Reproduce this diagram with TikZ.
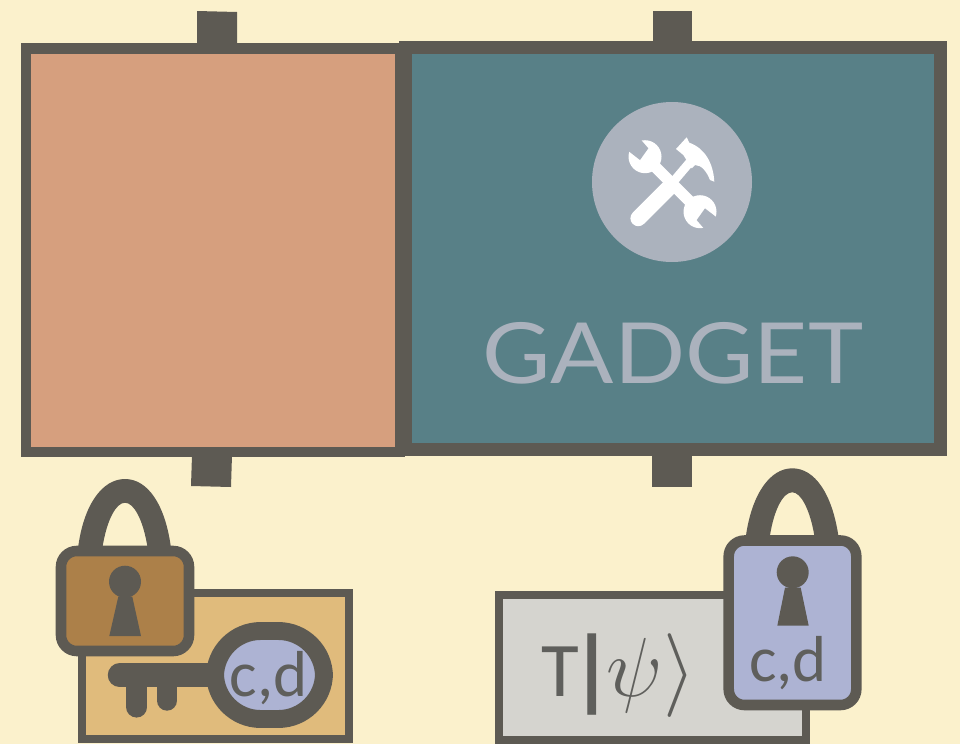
\documentclass[tikz,border=0pt]{standalone}
\usepackage{fontspec}
\newfontfamily\gadgetfont{Lato}
\newfontfamily\labelfont{Carlito}
\definecolor{paper}{HTML}{FBF1CC}
\definecolor{wire}{HTML}{5D5A53}
\definecolor{salmon}{HTML}{D69F7E}
\definecolor{teal}{HTML}{588087}
\definecolor{badge}{HTML}{ABB2BD}
\definecolor{bronze}{HTML}{AC8049}
\definecolor{tan}{HTML}{E0BB7C}
\definecolor{lilac}{HTML}{ADB3D3}
\definecolor{ash}{HTML}{D5D4CF}
\definecolor{ink}{HTML}{5F5F5C}
\tikzset{
    panel/.style={draw=wire, line width=5.7pt, line join=miter},
    lockbody/.style={draw=wire, line width=6pt, rounded corners=9pt},
    labeltext/.style={inner sep=0pt, anchor=base, text=ink, font=\labelfont\fontsize{37}{37}\selectfont},
}
\begin{document}
\begin{tikzpicture}[x=0.02cm, y=-0.02cm]
    \useasboundingbox (0,0) rectangle (960,744);
    \fill[paper] (0,0) rectangle (960,744);

    % Tabs
    \fill[wire] (197,11) -- (237,12) -- (237,46) -- (197,46) -- cycle;
    \fill[wire] (192,455) -- (232,455) -- (231,487) -- (191,486) -- cycle;
    \fill[wire] (653,11) -- (692,11) -- (692,44) -- (653,44) -- cycle;
    \fill[wire] (652,455) -- (692,455) -- (692,487) -- (652,487) -- cycle;

    % Panels
    \draw[panel, fill=salmon] (26,48.5) rectangle (400,452);
    \draw[panel, fill=teal, line width=7.4pt] (405.5,47.5) rectangle (940,449.5);

    % Badge with crossed tools
    \fill[badge] (672,182) circle (80);
    \fill[white] (645,156.7) circle (16.5);
    \fill[white] (700,211.7) circle (16.5);
    \draw[white, line width=6.4pt] (645,156.7) -- (700,211.7);
    \fill[badge] (623.3,145.7) -- (629.3,151.7) -- (640,160) -- (648.3,148.3) -- (641.7,140.7) -- (635.7,134.7) -- cycle;
    \fill[badge] (721.7,222.7) -- (715.7,216.7) -- (705,208.4) -- (696.7,220.1) -- (703.3,227.7) -- (709.3,233.7) -- cycle;
    \draw[white, line width=9pt, line cap=round] (638.3,218.3) -- (668.3,188.3);
    \draw[white, line width=5pt] (668,188) -- (690,162);
    \fill[white] (676,149) -- (686.7,137.3) -- (689.3,142.7) .. controls (705,148.3) and (713.3,163.3) .. (714.3,181.7)
        -- (710,180) .. controls (706.7,171.7) and (701.7,165) .. (695,165) -- (691.7,168.3) -- (683.3,155) -- cycle;
    \node[inner sep=0pt, anchor=base, text=badge, xscale=1.11, font=\gadgetfont\fontsize{48}{48}\selectfont] (gadget) at (673,383) {GADGET};

    % Key card
    \draw[draw=wire, fill=tan, line width=4.4pt] (82,593) rectangle (349,739);
    \draw[wire, line width=13.6pt, line cap=round] (119.7,675.3) -- (215,675.3);
    \draw[wire, line width=12pt, line cap=round] (136.7,680) -- (136.7,707);
    \draw[wire, line width=11.6pt, line cap=round] (167,680) -- (167,700.5);
    \draw[draw=wire, fill=lilac, line width=10.2pt, rounded corners=26pt] (215,631) rectangle (324,719);
    \node[labeltext] (keylabel) at (268.5,696.5) {c,d};

    % Padlock on the key card
    \fill[wire] (78.3,546) .. controls (84,505) and (102,479) .. (125,479) .. controls (148,479) and (165,505) .. (170.7,546)
        -- (147.3,546) .. controls (143,520) and (134,502.7) .. (125,502.7) .. controls (116,502.7) and (107,520) .. (102.7,546) -- cycle;
    \draw[lockbody, fill=bronze] (61,551) rectangle (189,651);
    \fill[wire] (125,581.7) circle (16);
    \fill[wire] (118.3,596.7) -- (109.3,636) -- (141,636) -- (132.3,596.7) -- cycle;

    % State card
    \draw[draw=wire, fill=ash, line width=4.4pt] (498.7,594.7) rectangle (806,740);
    \node[labeltext, font=\labelfont\fontsize{44}{44}\selectfont] (statelabel) at (618.5,696.7) {T\kern-5pt{\bfseries\fontsize{52}{52}\selectfont\raisebox{-2pt}{|}}\kern-4pt{\fontsize{20}{20}\selectfont\scalebox{2.3}{$\psi\rangle$}}};

    % Padlock on the state card
    \fill[wire] (746,535.3) .. controls (752,494) and (770,468.3) .. (792.3,468.3) .. controls (815,468.3) and (832,494) .. (838.3,535.3)
        -- (814.3,535.3) .. controls (810,510) and (801,492.3) .. (792.3,492.3) .. controls (783,492.3) and (774,510) .. (770,535.3) -- cycle;
    \draw[lockbody, fill=lilac] (728.7,540.5) rectangle (856.3,705);
    \fill[wire] (792.7,572.3) circle (16);
    \fill[wire] (785,587.7) -- (777.3,625.7) -- (808.7,625.7) -- (800.7,587.7) -- cycle;
    \node[labeltext] (locklabel) at (788,681.5) {c,d};
\end{tikzpicture}
\end{document}
